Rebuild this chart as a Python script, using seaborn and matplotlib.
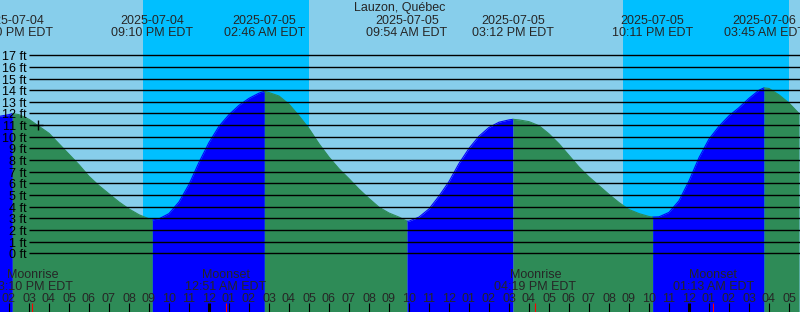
import numpy as np
import pandas as pd
import matplotlib
matplotlib.use("Agg")
import matplotlib.pyplot as plt
import seaborn as sns

# ---------------- data (hours since 2025-07-04 00:00 EDT) ----------------
title = "Lauzon, Québec"

grid_hours = np.arange(13.5, 53.51, 0.5)
grid_ft = [11.75, 11.9, 11.9, 11.5, 10.9, 10.3, 9.4, 8.5, 7.6, 6.6,
           5.8, 5.1, 4.4, 3.8, 3.3, 2.95, 2.95, 3.4, 4.4, 5.9,
           7.8, 9.5, 10.9, 11.9, 12.7, 13.3, 13.75, 13.8, 13.5, 12.8,
           11.8, 10.7, 9.4, 8.25, 7.25, 6.4, 5.5, 4.7, 3.95, 3.45,
           3.1, 2.75, 3.1, 3.8, 4.9, 6.15, 7.7, 9.0, 10.05, 10.8,
           11.25, 11.45, 11.45, 11.3, 10.95, 10.25, 9.4, 8.4, 7.4, 6.55,
           5.8, 5.05, 4.35, 3.75, 3.4, 3.15, 3.12, 3.5, 4.5, 6.2,
           8.2, 9.8, 10.9, 11.8, 12.5, 13.3, 14.0, 14.15, 13.6, 12.9,
           12.0]

event_hours = [14 + 10/60, 21 + 10/60, 26 + 46/60, 33 + 54/60,
               39 + 12/60, 46 + 11/60, 51 + 45/60]
event_ft = [12.0, 2.85, 13.9, 2.75, 11.5, 3.1, 14.2]
event_kind = ["high", "low", "high", "low", "high", "low", "high"]
event_dates = ["2025-07-04", "2025-07-04", "2025-07-05", "2025-07-05",
               "2025-07-05", "2025-07-05", "2025-07-06"]
event_times = ["02:10 PM EDT", "09:10 PM EDT", "02:46 AM EDT", "09:54 AM EDT",
               "03:12 PM EDT", "10:11 PM EDT", "03:45 AM EDT"]

sunset_hours = [20.7, 44.68]
sunrise_hours = [29.0, 53.02]

moon_hours = [15 + 10/60, 24 + 51/60, 40 + 19/60, 49 + 13/60]
moon_events = ["Moonrise", "Moonset", "Moonrise", "Moonset"]
moon_times = ["03:10 PM EDT", "12:51 AM EDT", "04:19 PM EDT", "01:13 AM EDT"]

level_ft = list(range(0, 18))
hour_ticks = list(range(14, 54))
hour_labels = ["%02d" % ((h - 1) % 12 + 1) for h in hour_ticks]

now_hour = 15 + 26/60
now_ft = 11.05

# ---------------- colours ----------------
DAY = "#87CEEB"
NIGHT = "#00BFFF"
RISING = "#0000FF"
FALLING = "#2E8B57"

# ---------------- pixel mapping helpers (800 x 312 canvas) ----------------
H0, PXH = 13.55, 20.0        # hour at left edge, pixels per hour
F0, PXF = 21.75, 11.64       # feet at top edge, pixels per foot


def hx(p):
    return H0 + p / PXH


def fy(p):
    return F0 - p / PXF


sns.set_style("white")
plt.rcParams["font.family"] = ["Liberation Sans", "DejaVu Sans"]
FS = 9

fig = plt.figure(figsize=(8, 3.12), dpi=100, facecolor=DAY)
ax = fig.add_axes([0, 0, 1, 1])
ax.set_xlim(hx(0), hx(800))
ax.set_ylim(fy(312), fy(0))
ax.axis("off")

# night shading
for s, r in zip(sunset_hours, sunrise_hours):
    ax.axvspan(s, r, color=NIGHT, lw=0, zorder=0)

# tide curve assembled from grid readings + extremes
all_h = np.concatenate([grid_hours, event_hours])
all_f = np.concatenate([grid_ft, event_ft])
order = np.argsort(all_h)
all_h, all_f = all_h[order], all_f[order]

bounds = [all_h[0]] + list(event_hours) + [all_h[-1]]
rows = []
for j in range(len(bounds) - 1):
    b0, b1 = bounds[j], bounds[j + 1]
    if j < len(event_kind):
        phase = "rising" if event_kind[j] == "high" else "falling"
    else:
        phase = "rising" if event_kind[-1] == "low" else "falling"
    m = (all_h >= b0) & (all_h <= b1)
    for h, f in zip(all_h[m], all_f[m]):
        rows.append({"hour": h, "ft": f, "seg": j, "phase": phase})
df = pd.DataFrame(rows)

pal = {"rising": RISING, "falling": FALLING}
bottom = fy(312)
for seg, g in df.groupby("seg"):
    ax.fill_between(g["hour"], g["ft"], bottom, color=pal[g["phase"].iloc[0]],
                    lw=0, zorder=1)
sns.lineplot(data=df, x="hour", y="ft", hue="phase", units="seg",
             estimator=None, palette=pal, legend=False, linewidth=0.8,
             ax=ax, zorder=2)
ax.set_xlabel("")
ax.set_ylabel("")
ax.axis("off")

# horizontal level lines + labels
ax.hlines(level_ft, hx(29), hx(800), colors="black", lw=1.0, zorder=3)
for lv in level_ft:
    ax.text(hx(27), lv - 5 / PXF, f"{lv} ft", ha="right", va="baseline",
            fontsize=FS, color="black", zorder=4)

# now marker
ax.plot([now_hour], [now_ft], marker="+", color="black", ms=7, mew=1.0,
        zorder=5)

# title and tide event labels
ax.text(hx(400), fy(11), title, ha="center", va="baseline", fontsize=FS)
for h, d, t in zip(event_hours, event_dates, event_times):
    ax.text(h, fy(24), d, ha="center", va="baseline", fontsize=FS)
    ax.text(h, fy(36), t, ha="center", va="baseline", fontsize=FS)

# moon labels
for h, e, t in zip(moon_hours, moon_events, moon_times):
    ax.text(h, fy(278), e, ha="center", va="baseline", fontsize=FS)
    ax.text(h, fy(289.5), t, ha="center", va="baseline", fontsize=FS)

# hour labels and ticks
for h, lab in zip(hour_ticks, hour_labels):
    ax.text(h, fy(301.7), lab, ha="center", va="baseline", fontsize=FS)
    lw = 2.2 if h % 24 == 0 else 0.8
    ax.vlines(h, fy(312), fy(303), colors="black", lw=lw, zorder=4)
ax.vlines(moon_hours, fy(312), fy(303), colors="red", lw=0.8, zorder=4)

fig.savefig("out.png", dpi=100, facecolor=DAY)
